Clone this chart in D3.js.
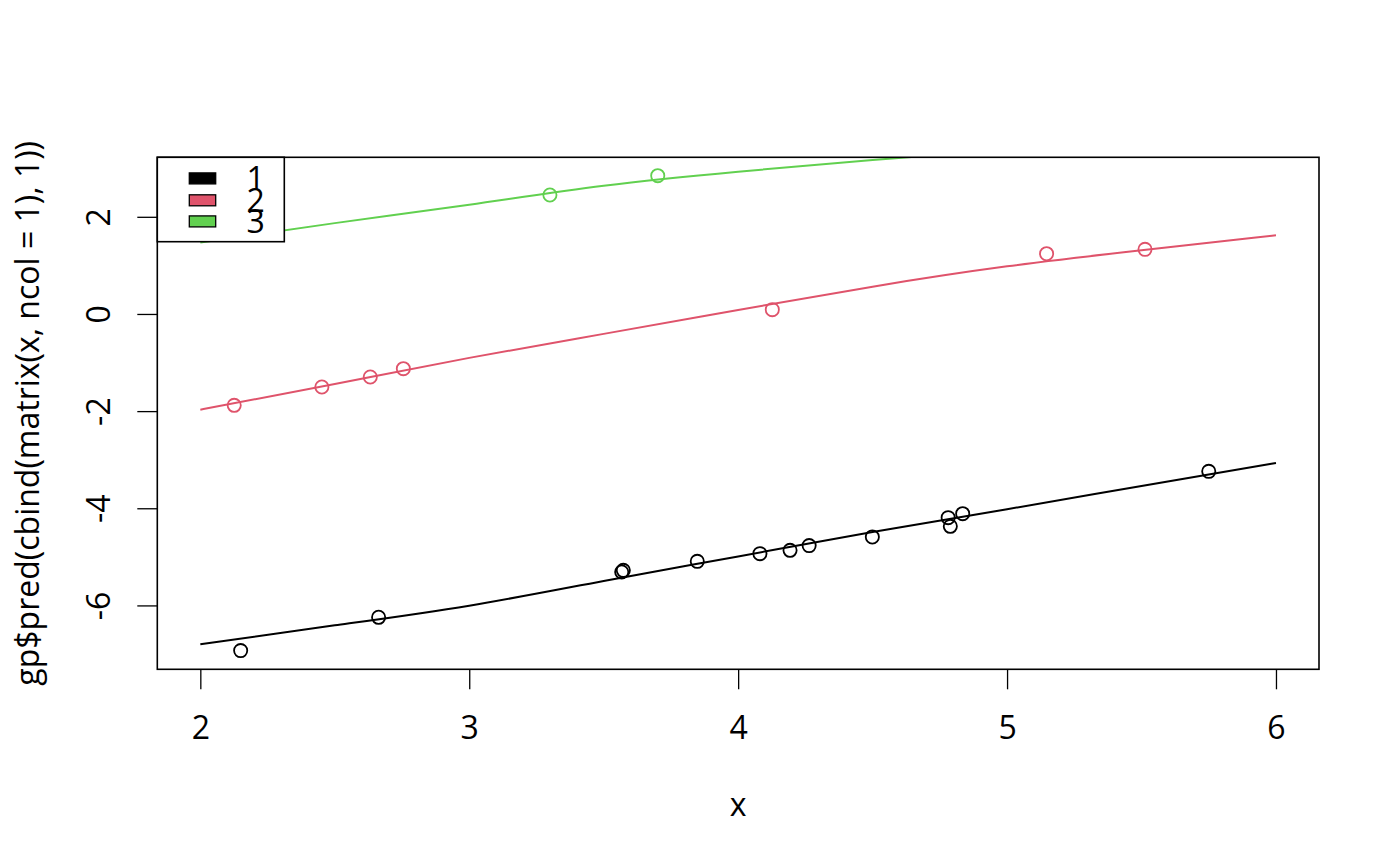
<!DOCTYPE html>
<html>
<head>
<meta charset="utf-8">
<title>gp pred</title>
<script src="https://d3js.org/d3.v7.min.js"></script>
<style>
  body { margin: 0; background: #fff; }
  text { font-family: "Open Sans", sans-serif; }
</style>
</head>
<body>
<div id="chart"></div>
<script>
// observed points, one array per group
var x1 = [2.150, 2.663, 3.573, 3.567, 3.848, 4.081, 4.193, 4.264, 4.499, 4.781, 4.789, 4.835, 5.750];
var y1 = [-6.93, -6.245, -5.278, -5.311, -5.093, -4.934, -4.866, -4.769, -4.590, -4.193, -4.372, -4.111, -3.240];
var x2 = [2.126, 2.452, 2.632, 2.755, 4.127, 5.147, 5.513];
var y2 = [-1.881, -1.503, -1.297, -1.126, 0.089, 1.241, 1.330];
var x3 = [3.300, 3.701];
var y3 = [2.450, 2.847];

// predicted curves
var gridX = [2, 2.5, 3, 3.5, 4, 4.5, 5, 5.5, 6];
var pred1 = [-6.80, -6.41, -6.005, -5.496, -4.992, -4.49, -4.02, -3.54, -3.067];
var pred2 = [-1.97, -1.441, -0.904, -0.41, 0.082, 0.562, 0.98, 1.31, 1.618];
var pred3 = [1.47, 1.87, 2.25, 2.64, 2.93, 3.17, 3.38, 3.57, 3.74];

var xTicks = [2, 3, 4, 5, 6];
var yTicks = [-6, -4, -2, 0, 2];
var groups = ["1", "2", "3"];
var colors = ["#000000", "#DF536B", "#61D04F"];

function render() {
    var W = 1400, H = 866;
    var pL = 157.3, pR = 1319, pT = 157.3, pB = 669.3;
    var fs = "32px";

    var svg = d3.select("#chart").append("svg")
        .attr("width", W)
        .attr("height", H);
    svg.append("rect").attr("width", W).attr("height", H).attr("fill", "#fff");

    var xScale = d3.scaleLinear().domain([1.84, 6.16]).range([pL, pR]);
    var yScale = d3.scaleLinear().domain([-7.315, 3.225]).range([pB, pT]);

    svg.append("clipPath").attr("id", "plotclip")
      .append("rect")
        .attr("x", pL).attr("y", pT)
        .attr("width", pR - pL).attr("height", pB - pT);

    var plot = svg.append("g").attr("clip-path", "url(#plotclip)");

    var line = d3.line()
        .x(function(d) { return xScale(d[0]); })
        .y(function(d) { return yScale(d[1]); })
        .curve(d3.curveNatural);

    var preds = [pred1, pred2, pred3];
    var pts = [[x1, y1], [x2, y2], [x3, y3]];

    preds.forEach(function(p, i) {
        plot.append("path")
            .datum(gridX.map(function(x, j) { return [x, p[j]]; }))
            .attr("d", line)
            .attr("fill", "none")
            .attr("stroke", colors[i])
            .attr("stroke-width", 2);
    });

    pts.forEach(function(p, i) {
        plot.selectAll(null)
            .data(p[0].map(function(x, j) { return [x, p[1][j]]; }))
            .enter()
            .append("circle")
            .attr("cx", function(d) { return xScale(d[0]); })
            .attr("cy", function(d) { return yScale(d[1]); })
            .attr("r", 6.6)
            .attr("fill", "none")
            .attr("stroke", colors[i])
            .attr("stroke-width", 1.8);
    });

    // axes
    var xAxis = svg.append("g")
        .attr("transform", "translate(0," + pB + ")")
        .call(d3.axisBottom(xScale).tickValues(xTicks).tickSize(20).tickSizeOuter(0)
            .tickFormat(function(d) { return String(d); }));
    xAxis.select(".domain").remove();
    xAxis.selectAll("line").attr("stroke", "#000").attr("stroke-width", 1.3);
    xAxis.selectAll("text")
        .attr("y", 70).attr("dy", 0)
        .attr("fill", "#000")
        .attr("font-size", fs)
        .attr("font-family", "Open Sans");

    var yAxis = svg.append("g")
        .attr("transform", "translate(" + pL + ",0)")
        .call(d3.axisLeft(yScale).tickValues(yTicks).tickSize(20).tickSizeOuter(0)
            .tickFormat(function(d) { return String(d); }));
    yAxis.select(".domain").remove();
    yAxis.selectAll("line").attr("stroke", "#000").attr("stroke-width", 1.3);
    yAxis.selectAll("text")
        .attr("transform", "rotate(-90)")
        .attr("x", 0).attr("y", -47.3).attr("dy", 0)
        .style("text-anchor", "middle")
        .attr("fill", "#000")
        .attr("font-size", fs)
        .attr("font-family", "Open Sans");

    // box
    svg.append("rect")
        .attr("x", pL).attr("y", pT)
        .attr("width", pR - pL).attr("height", pB - pT)
        .attr("fill", "none")
        .attr("stroke", "#000")
        .attr("stroke-width", 1.6);

    // titles
    svg.append("text")
        .attr("x", (pL + pR) / 2)
        .attr("y", 816)
        .attr("text-anchor", "middle")
        .attr("font-size", fs)
        .text("x");

    svg.append("text")
        .attr("transform", "translate(39," + ((pT + pB) / 2) + ") rotate(-90)")
        .attr("text-anchor", "middle")
        .attr("font-size", fs)
        .text("gp$pred(cbind(matrix(x, ncol = 1), 1))");

    // legend
    var leg = svg.append("g");
    leg.append("rect")
        .attr("x", pL).attr("y", pT)
        .attr("width", 127).attr("height", 84.4)
        .attr("fill", "#fff")
        .attr("stroke", "#000")
        .attr("stroke-width", 1.6);

    var rowY = [178.4, 200.3, 221.4];
    groups.forEach(function(g, i) {
        leg.append("rect")
            .attr("x", 189.3).attr("y", rowY[i] - 5.5)
            .attr("width", 26.4).attr("height", 11)
            .attr("fill", colors[i])
            .attr("stroke", "#000")
            .attr("stroke-width", 1.3);
        leg.append("text")
            .attr("x", 246.5)
            .attr("y", rowY[i] + 11.3)
            .attr("font-size", fs)
            .text(g);
    });
}

render();
</script>
</body>
</html>
